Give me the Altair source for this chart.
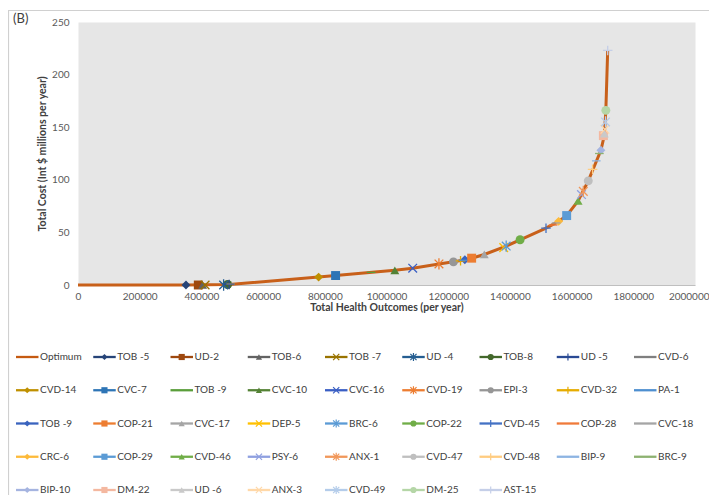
import altair as alt
import pandas as pd

FONT = "Lato"

# ---- series (legend order) ----
names = ["Optimum", "TOB -5", "UD-2", "TOB-6", "TOB -7", "UD -4", "TOB-8", "UD -5", "CVD-6",
         "CVD-14", "CVC-7", "TOB -9", "CVC-10", "CVC-16", "CVD-19", "EPI-3", "CVD-32", "PA-1",
         "TOB -9", "COP-21", "CVC-17", "DEP-5", "BRC-6", "COP-22", "CVD-45", "COP-28", "CVC-18",
         "CRC-6", "COP-29", "CVD-46", "PSY-6", "ANX-1", "CVD-47", "CVD-48", "BIP-9", "BRC-9",
         "BIP-10", "DM-22", "UD -6", "ANX-3", "CVD-49", "DM-25", "AST-15"]

markers = ["none", "diamond", "square", "triangle", "x", "star", "circle", "plus", "dash",
           "diamond", "square", "dash", "triangle", "x", "star", "circle", "plus", "dash",
           "diamond", "square", "triangle", "x", "star", "circle", "plus", "dash", "dash",
           "diamond", "square", "triangle", "x", "star", "circle", "plus", "dash", "dash",
           "diamond", "square", "triangle", "x", "star", "circle", "plus"]

colors = ["#C55A11", "#264478", "#9E480E", "#636363", "#997300", "#255E91", "#43682B", "#2A4A94", "#7F7F7F",
          "#BF9000", "#2E75B6", "#5A9E3A", "#548235", "#3A5FC4", "#ED7D31", "#969696", "#E6AC00", "#4E8FD0",
          "#3A63BE", "#ED7D31", "#A5A5A5", "#FFC000", "#5B9BD5", "#70AD47", "#4472C4", "#F07A3A", "#A5A5A5",
          "#FDBA3A", "#5B9BD5", "#70AD47", "#8FA0E0", "#F1975A", "#BFBFBF", "#FFCC80", "#8DB4E2", "#8DB270",
          "#A5B4E0", "#F4B8A0", "#C9C9C9", "#FFD8A8", "#B4CCEA", "#B5D6A7", "#C5CFE8"]

# health outcomes (per year) and total cost (Int $ millions per year); Optimum has no single point
outcomes = [None, 350000, 390000, 404000, 412000, 472000, 485000, 490000, 495000,
            780000, 835000, 950000, 1027000, 1085000, 1170000, 1217000, 1240000, 1248000,
            1254000, 1276000, 1317000, 1380000, 1388000, 1433000, 1517000, 1540000, 1550000,
            1558000, 1584000, 1621000, 1632000, 1638000, 1654000, 1668000, 1680000, 1690000,
            1695000, 1703000, 1706000, 1708000, 1710000, 1711000, 1717000]
costs = [None, 0, 0, 0, 0, 0, 0.5, 0.5, 1,
         7.5, 9, 12, 14, 16, 20, 22, 23, 23.5,
         24, 25.5, 29, 35.5, 37, 43, 54, 57, 59,
         60.5, 66, 80, 86, 89, 99, 110, 118, 125,
         128, 142, 144, 148, 155, 166, 223]

# Optimum frontier
opt_outcomes = [0, 350000, 490000, 780000, 835000, 1027000, 1085000, 1170000, 1217000, 1254000,
                1276000, 1317000, 1388000, 1433000, 1517000, 1558000, 1584000, 1621000, 1654000,
                1695000, 1706000, 1711000, 1717000]
opt_costs = [0, 0, 0.5, 7.5, 9, 14, 16, 20, 22, 24, 25.5, 29, 37, 43, 54, 60.5, 66, 80, 99,
             128, 142, 166, 223]

x_ticks = list(range(0, 2000001, 200000))
y_ticks = [0, 50, 100, 150, 200, 250]

SHAPES = {
    "diamond": "diamond",
    "square": "square",
    "triangle": "triangle-up",
    "circle": "circle",
    "x": "M-1,-1L1,1M-1,1L1,-1",
    "star": "M-1,-1L1,1M-1,1L1,-1M0,-1.3L0,1.3",
    "plus": "M-1.1,0L1.1,0M0,-1.1L0,1.1",
    "dash": "M-1,0L1,0",
}
FILLED = {"diamond", "square", "triangle", "circle"}

rows = []
for i, (n, m, c, xo, yc) in enumerate(zip(names, markers, colors, outcomes, costs)):
    col = i % 9
    rows.append({
        "name": n, "marker": m, "color": c, "x": xo, "y": yc,
        "vshape": SHAPES.get(m, "circle"),
        "kind": "none" if m == "none" else ("fill" if m in FILLED else "stroke"),
        "row": i // 9, "col": col,
        "lx1": col, "lx2": col + 0.291, "lxm": col + 0.145, "lxt": col + 0.311,
    })
df = pd.DataFrame(rows)
pts = df[df["kind"] != "none"]
df_opt = pd.DataFrame({"x": opt_outcomes, "y": opt_costs})

xs = alt.Scale(domain=[0, 2000000])
ys = alt.Scale(domain=[0, 250])

x_axis = alt.Axis(
    values=x_ticks, format="d", title="Total Health Outcomes (per year)", grid=False,
    ticks=False, domainColor="#BFBFBF", domainWidth=1, labelFontSize=10, labelColor="#595959",
    labelFont=FONT, titleFont=FONT, titleFontSize=10.5, titleFontWeight="bold",
    titleColor="#404040", labelPadding=6, titlePadding=1, labelFlush=False,
    labelAlign=alt.ExprRef(expr="datum.value >= 2000000 ? 'right' : 'center'"),
    labelOffset=alt.ExprRef(expr="datum.value >= 2000000 ? 14 : 0"))
y_axis = alt.Axis(
    values=y_ticks, title="Total Cost (Int $ millions per year)", grid=False, ticks=False,
    domain=False, labelFontSize=10, labelColor="#595959", labelFont=FONT, titleFont=FONT,
    titleFontSize=10.5, titleFontWeight="bold", titleColor="#404040", labelPadding=9,
    titlePadding=4)

X = alt.X("x:Q", scale=xs, axis=x_axis)
Y = alt.Y("y:Q", scale=ys, axis=y_axis)

line = alt.Chart(df_opt).mark_line(color="#C8601A", strokeWidth=3).encode(
    x=X, y=Y, order=alt.Order("x:Q"))

pf = alt.Chart(pts[pts["kind"] == "fill"]).mark_point(filled=True, size=80, opacity=1).encode(
    x=X, y=Y, color=alt.Color("color:N", scale=None), shape=alt.Shape("vshape:N", scale=None))
ps = alt.Chart(pts[pts["kind"] == "stroke"]).mark_point(filled=False, size=75, strokeWidth=1.3, opacity=1).encode(
    x=X, y=Y, color=alt.Color("color:N", scale=None), shape=alt.Shape("vshape:N", scale=None))

main = alt.layer(line, pf, ps)

# ---- legend grid below plot ----
lxs = alt.Scale(domain=[0, 9], range=[-62, 633.25])
lys = alt.Scale(domain=[0, 4], range=[335, 468])
LX = dict(scale=lxs, axis=None)
LY = alt.Y("row:Q", scale=lys, axis=None)
leg_rule = alt.Chart(df).mark_rule(strokeWidth=2.3).encode(
    x=alt.X("lx1:Q", **LX), x2="lx2:Q", y=LY, color=alt.Color("color:N", scale=None))
leg_f = alt.Chart(pts[pts["kind"] == "fill"]).mark_point(filled=True, size=38, opacity=1).encode(
    x=alt.X("lxm:Q", **LX), y=LY,
    color=alt.Color("color:N", scale=None), shape=alt.Shape("vshape:N", scale=None))
leg_s = alt.Chart(pts[(pts["kind"] == "stroke") & (pts["marker"] != "dash")]).mark_point(
    filled=False, size=38, strokeWidth=1.2, opacity=1).encode(
    x=alt.X("lxm:Q", **LX), y=LY,
    color=alt.Color("color:N", scale=None), shape=alt.Shape("vshape:N", scale=None))
leg_t = alt.Chart(df).mark_text(align="left", baseline="middle", fontSize=10, font=FONT,
                                 color="#404040").encode(
    x=alt.X("lxt:Q", **LX), y=LY, text="name:N")
legend = alt.layer(leg_rule, leg_f, leg_s, leg_t)

one = pd.DataFrame({"k": [0]})
frame = alt.Chart(one).mark_rect(fill="transparent", stroke="#D0D0D0", strokeWidth=1.2).encode(
    x=alt.value(-69.5), x2=alt.value(700), y=alt.value(-11.5), y2=alt.value(520))
tag = alt.Chart(one).mark_text(text="(B)", align="left", baseline="middle", fontSize=13,
                                font=FONT, color="#404040").encode(x=alt.value(-65), y=alt.value(-3))

chart = alt.layer(main, legend, frame, tag).resolve_scale(
    x="independent", y="independent"
).properties(
    width=617, height=263,
    autosize=alt.AutoSizeParams(type="none"),
    padding={"left": 70, "top": 14, "right": 14, "bottom": 210},
    background="white",
).configure_view(fill="#E6E6E6", stroke="transparent")

chart.save("out.html", embed_options={"renderer": "svg", "actions": False})
